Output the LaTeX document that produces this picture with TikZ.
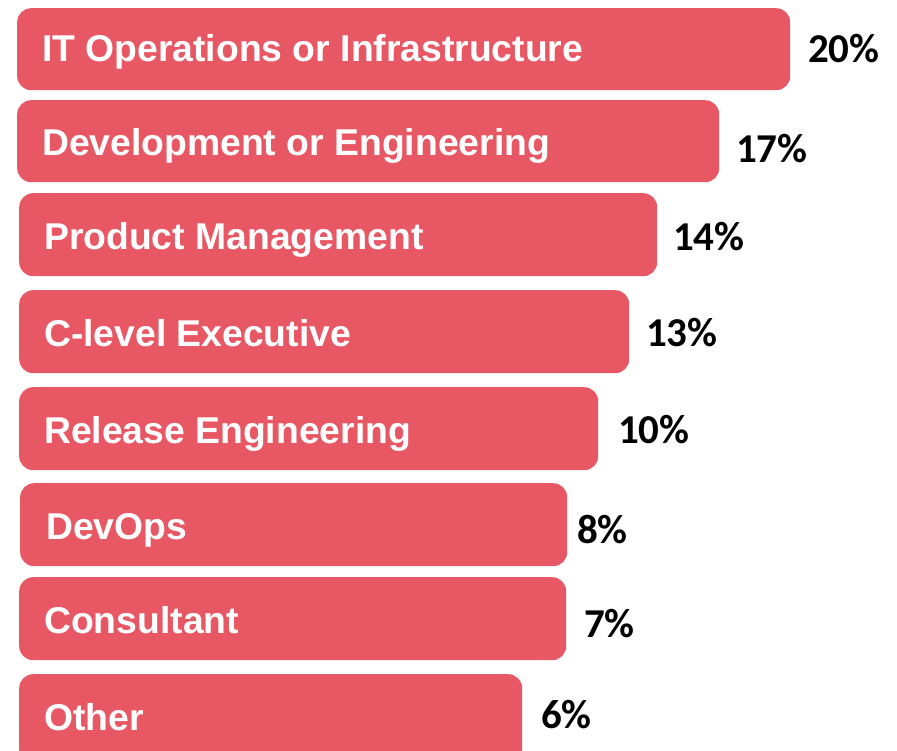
\documentclass[tikz,border=0pt]{standalone}
\usepackage{fontspec}
\setmainfont{Liberation Sans}
\newfontfamily\pctfont{Carlito}
\usepackage{xcolor}
\usepackage{tikz}
\usetikzlibrary{positioning}
\definecolor{barred}{HTML}{E85864}

\begin{document}
\begin{tikzpicture}[x=1bp,y=-1bp]
    \tikzstyle{bar}=[fill=barred, rounded corners=14bp, anchor=north west, inner sep=0pt, minimum height=83bp]
    \tikzstyle{roletext}=[anchor=base west, inner sep=0pt, text=white, font=\fontsize{37.3bp}{40bp}\selectfont\bfseries]
    \tikzstyle{pct}=[anchor=base west, inner sep=0pt, text=black, font=\fontsize{41bp}{44bp}\selectfont\pctfont\bfseries]

    \useasboundingbox (0,0) rectangle (897,751);

    \node[bar, minimum width=773bp, minimum height=82bp] (IT) at (17,8) {};
    \node[bar, minimum width=702bp, minimum height=82bp] (Dev) at (17,100) {};
    \node[bar, minimum width=638bp] (PM) at (19,193) {};
    \node[bar, minimum width=610bp] (CL) at (19,290) {};
    \node[bar, minimum width=579bp] (RE) at (19,387) {};
    \node[bar, minimum width=547bp] (DO) at (20,483) {};
    \node[bar, minimum width=547bp] (CO) at (19,577) {};
    \node[bar, minimum width=503bp, minimum height=90bp] (OT) at (19,674) {};

    \node[roletext] (tIT) at (42,62) {IT Operations or Infrastructure};
    \node[roletext] (tDev) at (42,155) {Development or Engineering};
    \node[roletext] (tPM) at (44,249) {Product Management};
    \node[roletext] (tCL) at (44,346) {C-level Executive};
    \node[roletext] (tRE) at (44,443) {Release Engineering};
    \node[roletext] (tDO) at (46,539) {DevOps};
    \node[roletext] (tCO) at (44,633) {Consultant};
    \node[roletext] (tOT) at (44,730) {Other};

    \node[pct] (pIT) at (808,63) {20\%};
    \node[pct] (pDev) at (736,162) {17\%};
    \node[pct] (pPM) at (673,250) {14\%};
    \node[pct] (pCL) at (646,346) {13\%};
    \node[pct] (pRE) at (618,443) {10\%};
    \node[pct] (pDO) at (577,543) {8\%};
    \node[pct] (pCO) at (584,637) {7\%};
    \node[pct] (pOT) at (541,728) {6\%};
\end{tikzpicture}
\end{document}
